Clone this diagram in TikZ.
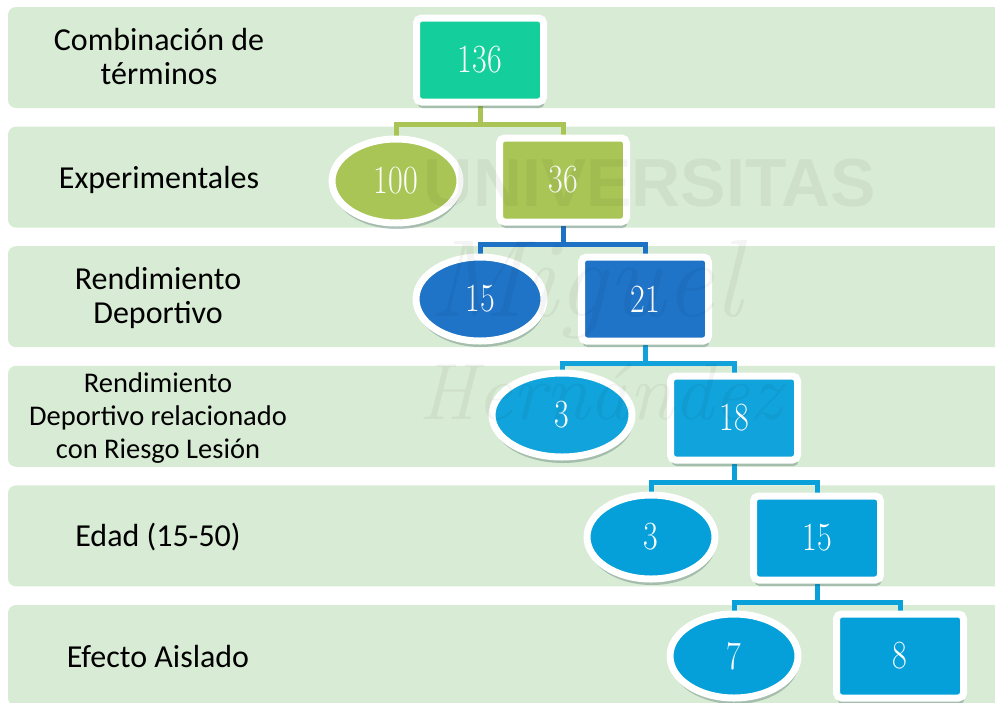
\documentclass[tikz,border=0pt]{standalone}
\usepackage{fontspec}
\newfontfamily\labelfont{Carlito}
\newfontfamily\markfont{Liberation Sans}
\usetikzlibrary{shapes, shadows, calc, positioning}
\definecolor{bandgreen}{RGB}{216,235,212}
\definecolor{tealnode}{RGB}{20,206,155}
\definecolor{olivenode}{RGB}{169,197,85}
\definecolor{bluenode}{RGB}{31,116,200}
\definecolor{skynode}{RGB}{17,163,219}
\definecolor{cyannode}{RGB}{5,160,218}
\definecolor{shadowteal}{RGB}{45,85,85}
\newcommand{\cnt}[1]{\scalebox{0.8}[1]{#1}}
\pgfdeclarelayer{bg}
\pgfsetlayers{bg,main}

\begin{document}
\begin{tikzpicture}[
            x=1pt, y=-1pt,
            band/.style={fill=bandgreen, rounded corners=8pt},
            count/.style={draw=white, line width=7pt, text=white, inner sep=0pt,
                font=\fontsize{40}{42}\selectfont,
                drop shadow={shadow xshift=1pt, shadow yshift=-6pt, opacity=.3, fill=shadowteal}},
            box/.style={count, rectangle, rounded corners=5pt, minimum width=127pt, minimum height=84pt},
            oval/.style={count, ellipse, minimum width=128pt, minimum height=84pt},
            link/.style={line width=5pt},
            rowlabel/.style={align=center, font=\labelfont\fontsize{32}{34}\selectfont},
            watermark/.style={text=black, opacity=.045}
        ]
        \useasboundingbox (0,0) rectangle (995,702);

        % rows
        \begin{pgfonlayer}{bg}
            \foreach \Row in {0,...,5}
                \fill[band] (8,7+119.6*\Row) rectangle (1010,108+119.6*\Row);
        \end{pgfonlayer}

        \node[rowlabel] (l1) at (159,57) {Combinación de\\términos};
        \node[rowlabel] (l2) at (159,180) {Experimentales};
        \node[rowlabel] (l3) at (158,298) {Rendimiento\\Deportivo};
        \node[rowlabel, font=\labelfont\fontsize{28.5}{33}\selectfont] (l4) at (158,418)
            {Rendimiento\\Deportivo relacionado\\con Riesgo Lesión};
        \node[rowlabel] (l5) at (158,537) {Edad (15-50)};
        \node[rowlabel] (l6) at (158,656) {Efecto Aislado};

        % tree
        \node[box, fill=tealnode] (n136) at (480,60) {\cnt{136}};
        \node[oval, fill=olivenode] (n100) at (396,181) {\cnt{100}};
        \node[box, fill=olivenode] (n36) at (563,180) {\cnt{36}};
        \node[oval, fill=bluenode] (n15) at (480,299) {\cnt{15}};
        \node[box, fill=bluenode] (n21) at (645,299) {\cnt{21}};
        \node[oval, fill=skynode, minimum width=140pt] (n3a) at (562,415) {\cnt{3}};
        \node[box, fill=skynode] (n18) at (734,418) {\cnt{18}};
        \node[oval, fill=cyannode] (n3b) at (651,537) {\cnt{3}};
        \node[box, fill=cyannode] (n15b) at (817,538) {\cnt{15}};
        \node[oval, fill=cyannode] (n7) at (734,656) {\cnt{7}};
        \node[box, fill=cyannode] (n8) at (900,656) {\cnt{8}};

        \begin{pgfonlayer}{bg}
            \foreach \Parent/\Left/\Right/\Col in {n136/n100/n36/{169,196,84},
                    n36/n15/n21/{30,114,198}, n21/n3a/n18/{18,162,219},
                    n18/n3b/n15b/{10,160,218}, n15b/n7/n8/{10,160,218}} {
                \definecolor{linkcol}{RGB}{\Col}
                \coordinate (bus) at ($(\Parent.south)+(0,19)$);
                \draw[link, linkcol] (\Parent.south) -- (bus);
                \draw[link, linkcol] (\Left.north) |- (bus) -| (\Right.north);
            }
        \end{pgfonlayer}

        % faint logo text
        \node[watermark, font=\markfont\bfseries\fontsize{68}{68}\selectfont] (wm1) at (650,183) {UNIVERSITAS};
        \node[watermark, font=\itshape\fontsize{110}{110}\selectfont] (wm2) at (585,290) {Miguel};
        \node[watermark, font=\itshape\fontsize{80}{80}\selectfont] (wm3) at (600,392) {Hernández};
    \end{tikzpicture}
\end{document}
